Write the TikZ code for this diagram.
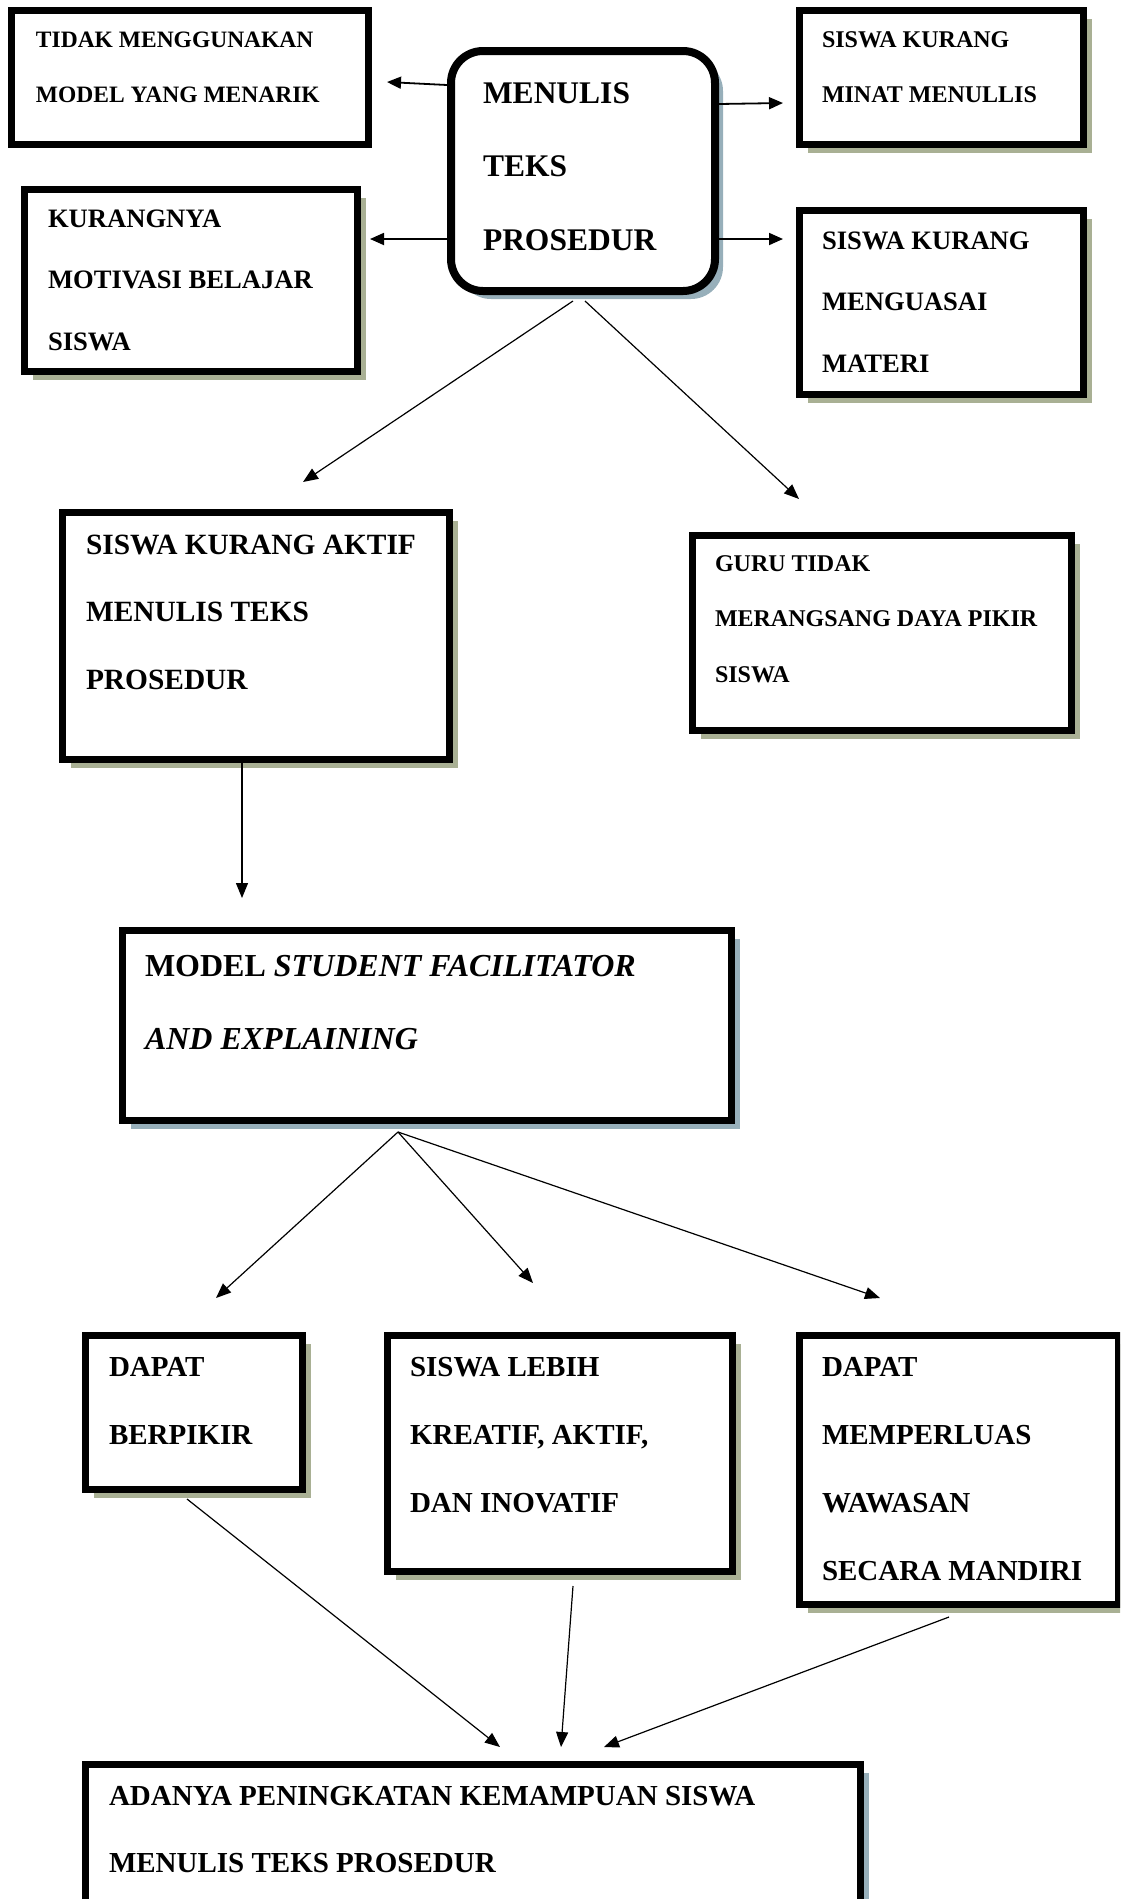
\documentclass[tikz,border=0pt]{standalone}
\usepackage{fontspec}
\setmainfont{Liberation Serif}
\usetikzlibrary{shadows,arrows.meta,calc}
\definecolor{olv}{HTML}{A9B094}
\definecolor{blu}{HTML}{97AFBA}
\def\bxlw{7pt}
\def\bxfont{\normalsize}
% name, X1, Y1, X2, Y2 (outer edges, px), style, left pad, top space, text
\newcommand{\bx}[9]{%
  \node[#6, anchor=north west, inner sep=0pt] (#1) at (#2,#3) {%
    \begin{minipage}[t][\dimexpr #5pt-#3pt-\bxlw\relax][t]{\dimexpr #4pt-#2pt-\bxlw\relax}%
      \vspace*{#8pt}\bxfont\bfseries\leftskip=#7pt\relax\parindent=0pt
      \noindent\rule{0pt}{25pt}#9%
    \end{minipage}};}
\tikzset{
  plainbox/.style={draw, line width=7pt, fill=white},
  oshbox/.style={plainbox, drop shadow={shadow xshift=8pt, shadow yshift=-8pt, opacity=1, fill=olv}},
  bshbox/.style={plainbox, drop shadow={shadow xshift=8pt, shadow yshift=-8pt, opacity=1, fill=blu}},
  roundbox/.style={draw, line width=8pt, fill=white, rounded corners=32pt,
     drop shadow={shadow xshift=8pt, shadow yshift=-8pt, opacity=1, fill=blu}},
  arrS/.style={line width=1.8pt, -{Triangle[length=14pt,width=12pt]}},
  arrT/.style={line width=1.2pt, -{Triangle[length=15pt,width=12pt]}}
}
\begin{document}
\begin{tikzpicture}[x=1pt,y=-1pt]
\useasboundingbox (0,0) rectangle (1120,1899);
\clip (0,0) rectangle (1120,1899);

\def\bxfont{\fontsize{23.5pt}{55pt}\selectfont}
\bx{tidak}{8}{7}{372}{148}{plainbox}{24.5}{11.5}{TIDAK MENGGUNAKAN\\MODEL YANG MENARIK}

\def\bxfont{\fontsize{26.6pt}{61.5pt}\selectfont}
\bx{kurang}{21}{186}{361}{375}{oshbox}{23.5}{12.5}{KURANGNYA\\MOTIVASI BELAJAR\\SISWA}

\def\bxlw{8pt}
\def\bxfont{\fontsize{31.5pt}{73.5pt}\selectfont}
\bx{menulis}{447}{47}{719}{295}{roundbox}{32}{27}{MENULIS\\TEKS\\PROSEDUR}
\def\bxlw{7pt}

\def\bxfont{\fontsize{24pt}{55pt}\selectfont}
\bx{minat}{796}{7}{1087}{148}{oshbox}{22.5}{11.5}{SISWA KURANG\\MINAT MENULLIS}

\def\bxfont{\fontsize{26.6pt}{61.5pt}\selectfont}
\bx{kuasai}{796}{207}{1087}{398}{oshbox}{22.5}{13.5}{SISWA KURANG\\MENGUASAI\\MATERI}

\def\bxfont{\fontsize{29.4pt}{67.5pt}\selectfont}
\bx{aktif}{59}{509}{453}{763}{oshbox}{23.5}{16.5}{SISWA KURANG AKTIF\\MENULIS TEKS\\PROSEDUR}

\def\bxfont{\fontsize{24pt}{55.5pt}\selectfont}
\bx{guru}{689}{532}{1075}{734}{oshbox}{22.5}{10.5}{GURU TIDAK\\MERANGSANG DAYA PIKIR\\SISWA}

\def\bxfont{\fontsize{32pt}{73pt}\selectfont}
\bx{model}{119}{927}{735}{1124}{bshbox}{22.5}{20.5}{MODEL \textit{STUDENT FACILITATOR}\\\textit{AND EXPLAINING}}

\def\bxfont{\fontsize{29pt}{68pt}\selectfont}
\bx{dapat}{82}{1332}{306}{1493}{oshbox}{23.5}{15.5}{DAPAT\\BERPIKIR}
\bx{lebih}{384}{1332}{736}{1575}{oshbox}{22.5}{15.5}{SISWA LEBIH\\KREATIF, AKTIF,\\DAN INOVATIF}
\bx{luas}{796}{1332}{1122}{1608}{oshbox}{22.5}{15.5}{DAPAT\\MEMPERLUAS\\WAWASAN\\SECARA MANDIRI}

\def\bxfont{\fontsize{29pt}{67pt}\selectfont}
\bx{adanya}{82}{1761}{864}{1915}{bshbox}{23.5}{15.5}{ADANYA PENINGKATAN KEMAMPUAN SISWA\\MENULIS TEKS PROSEDUR}

% top arrows
\draw[arrS] (menulis.west |- 0,85) -- ([xshift=15pt]tidak.east |- 0,82);
\draw[arrS] (menulis.west |- 0,239) -- ([xshift=9pt]kurang.east |- 0,239);
\draw[arrS] (menulis.east |- 0,104) -- ([xshift=-13pt]minat.west |- 0,103);
\draw[arrS] (menulis.east |- 0,239) -- ([xshift=-13pt]kuasai.west |- 0,239);

% diagonals from MENULIS
\draw[arrT] ([xshift=-10pt,yshift=-6pt]menulis.south) -- ([xshift=47pt,yshift=27pt]aktif.north);
\draw[arrT] ([xshift=2pt,yshift=-6pt]menulis.south) -- ([xshift=-83pt,yshift=33pt]guru.north);

% down to MODEL
\draw[arrT] ([xshift=-14pt]aktif.south) -- ([xshift=-185pt,yshift=29pt]model.north);

% from MODEL
\draw[arrT] ([xshift=-29pt,yshift=-8pt]model.south) -- ([xshift=22pt,yshift=34pt]dapat.north);
\draw[arrT] ([xshift=-29pt,yshift=-8pt]model.south) -- ([xshift=-27pt,yshift=49pt]lebih.north);
\draw[arrT] ([xshift=-29pt,yshift=-8pt]model.south) -- ([xshift=-79pt,yshift=34pt]luas.north);

% to ADANYA
\draw[arrT] ([xshift=-7pt,yshift=-6pt]dapat.south) -- ([xshift=27pt,yshift=14pt]adanya.north);
\draw[arrT] ([xshift=13pt,yshift=-11pt]lebih.south) -- ([xshift=88pt,yshift=14pt]adanya.north);
\draw[arrT] ([xshift=-10pt,yshift=-9pt]luas.south) -- ([xshift=131pt,yshift=14pt]adanya.north);
\end{tikzpicture}
\end{document}
